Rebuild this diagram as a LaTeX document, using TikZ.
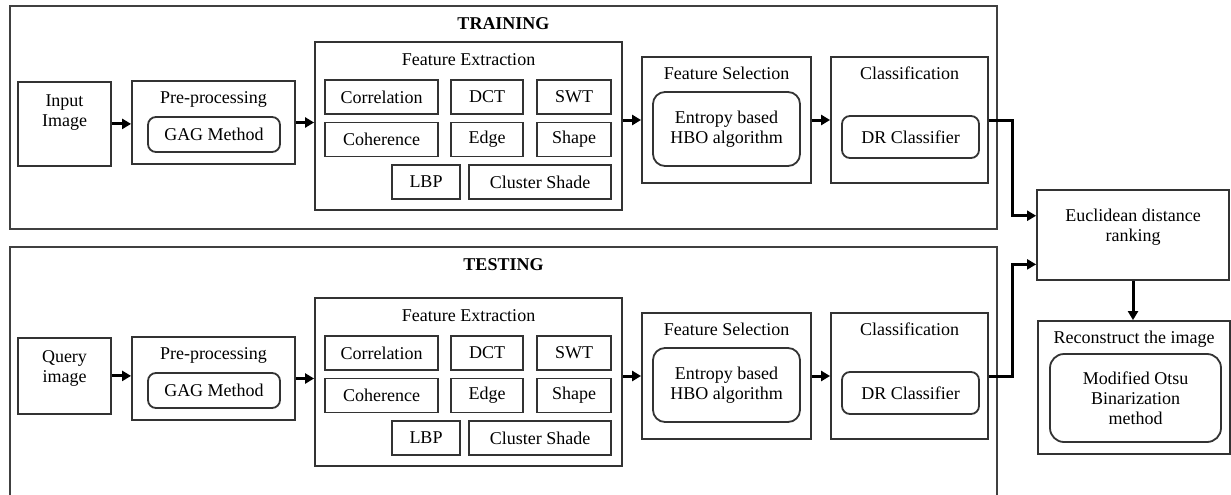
\documentclass[tikz,border=0pt]{standalone}
\usepackage{fontspec}
\setmainfont{Liberation Serif}
\usetikzlibrary{calc,positioning}
\usetikzlibrary{arrows.meta}
\tikzset{
  box/.style={draw=black!80, line width=1.8pt, inner sep=0pt, align=center},
  rbox/.style={box, rounded corners=8pt},
  frame/.style={draw=black!75, line width=2pt, inner sep=0pt},
  ttl/.style={below=7.5pt},
  head/.style={below=9pt, font=\fontsize{18}{20}\selectfont\bfseries},
  flow/.style={draw=black, line width=3pt, -{Triangle[length=9pt,width=10pt]}},
  pics/stage/.style n args={2}{code={%

      % source image and pre-processing
      \node [box, minimum width=93, minimum height=#2, anchor=north] (-in) at (64.5,81) {};
      \node [below=10pt, align=center] (-in-t) at (-in.north) {#1};
      \node [box, minimum width=163, minimum height=83] (-pre) at (213.5,122.5) {};
      \node [ttl] (-pre-t) at (-pre.north) {Pre-processing};
      \node [rbox, minimum width=132, minimum height=35] (-gag) at (214,134.5) {GAG Method};

      % feature extraction
      \node [box, minimum width=307, minimum height=168] (-fe) at (468.5,126) {};
      \node [ttl, below=8.5pt] (-fe-t) at (-fe.north) {Feature Extraction};
      \foreach \n/\x/\y/\w/\t in {corr/381.5/97/113/Correlation, dct/487/97/72/DCT,
          swt/574/97/74/SWT, coh/381.5/139.5/113/Coherence, edge/487/139.5/72/Edge,
          shp/574/139.5/74/Shape, lbp/426/182/68/LBP, cs/540/182/142/Cluster Shade}
        \node [box, minimum width=\w, minimum height=34] (-\n) at (\x,\y) {\t};

      % selection and classification
      \node [box, minimum width=169, minimum height=126] (-fs) at (726.5,120) {};
      \node [ttl] (-fs-t) at (-fs.north) {Feature Selection};
      \node [rbox, rounded corners=12pt, minimum width=147, minimum height=74] (-hbo) at (726.5,129) {Entropy based\\HBO algorithm};
      \node [box, minimum width=157, minimum height=126] (-cls) at (909.5,120) {};
      \node [ttl] (-cls-t) at (-cls.north) {Classification};
      \node [rbox, minimum width=137, minimum height=42] (-dr) at (910.5,137) {DR Classifier};

      % arrows
      \draw [flow] (-in.east) -- (-in.east -| -pre.west);
      \draw [flow] (-pre.east) -- (-pre.east -| -fe.west);
      \draw [flow] (-fe.east |- -fs.west) -- (-fs.west);
      \draw [flow] (-fs.east) -- (-cls.west);
}}}

\begin{document}
\begin{tikzpicture}[x=1pt, y=-1pt, font=\fontsize{18}{20}\selectfont]
    \useasboundingbox (0,0) rectangle (1231,495);
    \node [frame, minimum width=987, minimum height=223] (train) at (503.5,117.5) {};
    \node [head] (train-t) at (train.north) {TRAINING};
    \node [frame, minimum width=987, minimum height=250] (test) at (503.5,372) {};
    \node [head] (test-t) at (test.north) {TESTING};
    \path (0,0) pic (tr) {stage={Input\\Image}{84}};
    \path (0,256) pic (ts) {stage={Query\\image}{76}};

    % ranking and reconstruction
    \node [box, minimum width=192, minimum height=90] (euc) at (1133,235) {};
    \node [align=center] (euc-t) at ([yshift=8pt]euc.center) {Euclidean distance\\ranking};
    \node [box, minimum width=192, minimum height=133] (rec) at (1134,387.5) {};
    \node [ttl] (rec-t) at (rec.north) {Reconstruct the image};
    \node [rbox, rounded corners=14pt, minimum width=171, minimum height=88] (otsu) at (1135.5,398) {Modified Otsu\\Binarization\\method};

    \coordinate (euc-in1) at ($(euc.north west)!0.29!(euc.south west)$);
    \coordinate (euc-in2) at ($(euc.north west)!0.82!(euc.south west)$);
    \draw [flow] (tr-cls.east) -- ++(24,0) |- (euc-in1);
    \draw [flow] (ts-cls.east) -- ++(24,0) |- (euc-in2);
    \draw [flow] (euc.south) -- (euc.south |- rec.north);
\end{tikzpicture}
\end{document}
